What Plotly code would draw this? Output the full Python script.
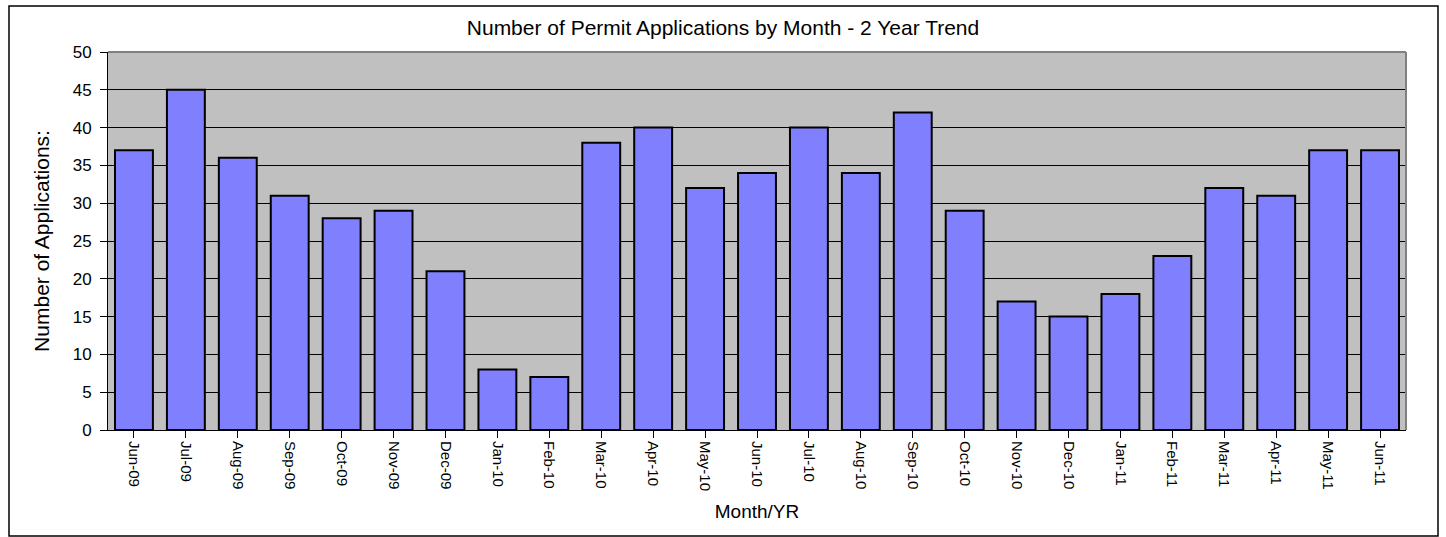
import plotly.graph_objects as go

months = ["Jun-09", "Jul-09", "Aug-09", "Sep-09", "Oct-09", "Nov-09", "Dec-09", "Jan-10", "Feb-10",
          "Mar-10", "Apr-10", "May-10", "Jun-10", "Jul-10", "Aug-10", "Sep-10", "Oct-10", "Nov-10",
          "Dec-10", "Jan-11", "Feb-11", "Mar-11", "Apr-11", "May-11", "Jun-11"]
applications = [37, 45, 36, 31, 28, 29, 21, 8, 7, 38, 40, 32, 34, 40, 34, 42, 29, 17, 15, 18, 23, 32, 31, 37, 37]
y_ticks = [0, 5, 10, 15, 20, 25, 30, 35, 40, 45, 50]

FONT = "Liberation Sans, Arial, sans-serif"

fig = go.Figure()
fig.add_trace(go.Bar(
    x=months, y=applications,
    marker=dict(color="#8080ff", line=dict(color="black", width=2)),
    width=0.73,
))

W, H = 1446, 537
pl, pr, pt, pb = 108, 1406, 52, 430
fig.update_layout(
    width=W, height=H,
    margin=dict(l=pl, r=W - pr, t=pt, b=H - pb),
    paper_bgcolor="white",
    plot_bgcolor="#c0c0c0",
    showlegend=False,
    font=dict(family=FONT, color="black", size=15),
    title=dict(text="Number of Permit Applications by Month - 2 Year Trend",
               x=0.5, xanchor="center", y=1 - 28 / H, yanchor="middle",
               font=dict(size=21)),
    xaxis=dict(
        tickangle=90, tickfont=dict(size=15),
        showline=True, linecolor="black", linewidth=1,
        ticks="outside", ticklen=7, tickcolor="black",
        title=dict(text="Month/YR", font=dict(size=19), standoff=14),
        range=[-0.5, len(months) - 0.5],
    ),
    yaxis=dict(
        range=[0, 50], tickvals=y_ticks,
        showgrid=True, gridcolor="black", gridwidth=1,
        showline=True, linecolor="black", linewidth=1,
        ticks="outside", ticklen=7, tickcolor="black",
        tickfont=dict(size=17), ticklabelstandoff=5,
        title=dict(text="Number of Applications:", font=dict(size=21), standoff=17),
        zeroline=False,
    ),
    shapes=[
        dict(type="rect", xref="paper", yref="paper",
             x0=(9 - pl) / (pr - pl), x1=(1438 - pl) / (pr - pl),
             y0=(pb - 536) / (pb - pt), y1=(pb - 6) / (pb - pt),
             line=dict(color="black", width=1.5), fillcolor="rgba(0,0,0,0)", layer="below"),
        dict(type="line", xref="paper", yref="paper", x0=0, x1=1, y0=1, y1=1,
             line=dict(color="#808080", width=2)),
        dict(type="line", xref="paper", yref="paper", x0=1, x1=1, y0=0, y1=1,
             line=dict(color="#808080", width=2)),
    ],
)

fig.write_html("out.html", config={"displayModeBar": False},
               post_script="document.body.style.margin='0';document.body.style.overflow='hidden';")
